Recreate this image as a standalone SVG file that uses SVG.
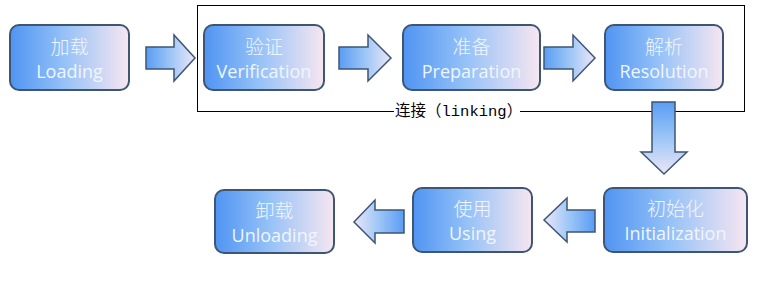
<svg xmlns="http://www.w3.org/2000/svg" width="770" height="295" viewBox="0 0 770 295">
<defs>
<linearGradient id="gNode" x1="0" y1="0" x2="1" y2="0">
<stop offset="0" stop-color="#5094f2"/>
<stop offset="0.45" stop-color="#94c1f7"/>
<stop offset="1" stop-color="#f7e6f1"/>
</linearGradient>
<linearGradient id="gR" x1="0" y1="0" x2="1" y2="0">
<stop offset="0" stop-color="#5a9cf4"/>
<stop offset="0.5" stop-color="#9cc6f6"/>
<stop offset="1" stop-color="#ece6f6"/>
</linearGradient>
<linearGradient id="gL" x1="1" y1="0" x2="0" y2="0">
<stop offset="0" stop-color="#5a9cf4"/>
<stop offset="0.5" stop-color="#9cc6f6"/>
<stop offset="1" stop-color="#ece6f6"/>
</linearGradient>
<linearGradient id="gD" x1="0" y1="0" x2="0" y2="1">
<stop offset="0" stop-color="#5a9cf4"/>
<stop offset="0.5" stop-color="#9cc6f6"/>
<stop offset="1" stop-color="#ece6f6"/>
</linearGradient>
<style>
.node{fill:url(#gNode);stroke:#3e5673;stroke-width:2}
.t{font-family:"Open Sans","Noto Sans CJK SC",sans-serif;fill:#f0f6ff;text-anchor:middle}
.cn{font-family:"Noto Sans CJK SC",sans-serif;font-size:19px;font-weight:300}
.en{font-size:18px}
.arr{stroke:#3e5673;stroke-width:1.5;stroke-linejoin:miter}
</style>
</defs>
<g id="linking">
<rect x="197.5" y="5.5" width="547" height="106" fill="none" stroke="#000" stroke-width="1"/>
<rect x="394" y="102" width="126" height="18" fill="#fff"/>
<text x="395" y="116" font-size="15.5" fill="#000" font-family="'Noto Sans CJK SC',sans-serif">连接（<tspan font-family="'Liberation Mono',monospace">linking</tspan>）</text>
</g>
<g id="connectors">
<polygon class="arr" fill="url(#gR)" points="146,47 174,47 174,35 195,58 174,81 174,69 146,69"/>
<polygon class="arr" fill="url(#gR)" points="339,47 368,47 368,35 391,58 368,81 368,69 339,69"/>
<polygon class="arr" fill="url(#gR)" points="544,47 573,47 573,35 595,58 573,81 573,69 544,69"/>
<polygon class="arr" fill="url(#gD)" points="652,102 675,102 675,152 687,152 664,174 641,152 652,152"/>
<polygon class="arr" fill="url(#gL)" points="595,210 567,210 567,198 544,220 567,242 567,232 595,232"/>
<polygon class="arr" fill="url(#gL)" points="404,210 375,210 375,200 354,222 375,243 375,233 404,233"/>
</g>
<g id="loading">
<rect class="node" x="10" y="25" width="119" height="65" rx="9"/>
<text class="t cn" x="69.5" y="54">加载</text>
<text class="t en" x="69.5" y="78">Loading</text>
</g>
<g id="verification">
<rect class="node" x="204" y="25" width="120" height="65" rx="9"/>
<text class="t cn" x="264" y="54">验证</text>
<text class="t en" x="264" y="78">Verification</text>
</g>
<g id="preparation">
<rect class="node" x="403" y="25" width="137" height="65" rx="9"/>
<text class="t cn" x="471.5" y="54">准备</text>
<text class="t en" x="471.5" y="78">Preparation</text>
</g>
<g id="resolution">
<rect class="node" x="605" y="25" width="118" height="65" rx="9"/>
<text class="t cn" x="664" y="54">解析</text>
<text class="t en" x="664" y="78">Resolution</text>
</g>
<g id="initialization">
<rect class="node" x="604" y="188" width="143" height="64" rx="9"/>
<text class="t cn" x="675.5" y="216">初始化</text>
<text class="t en" x="675.5" y="240">Initialization</text>
</g>
<g id="using">
<rect class="node" x="413" y="188" width="119" height="64" rx="9"/>
<text class="t cn" x="472.5" y="216">使用</text>
<text class="t en" x="472.5" y="240">Using</text>
</g>
<g id="unloading">
<rect class="node" x="215" y="190" width="119" height="63" rx="9"/>
<text class="t cn" x="274.5" y="218">卸载</text>
<text class="t en" x="274.5" y="242">Unloading</text>
</g>
</svg>
